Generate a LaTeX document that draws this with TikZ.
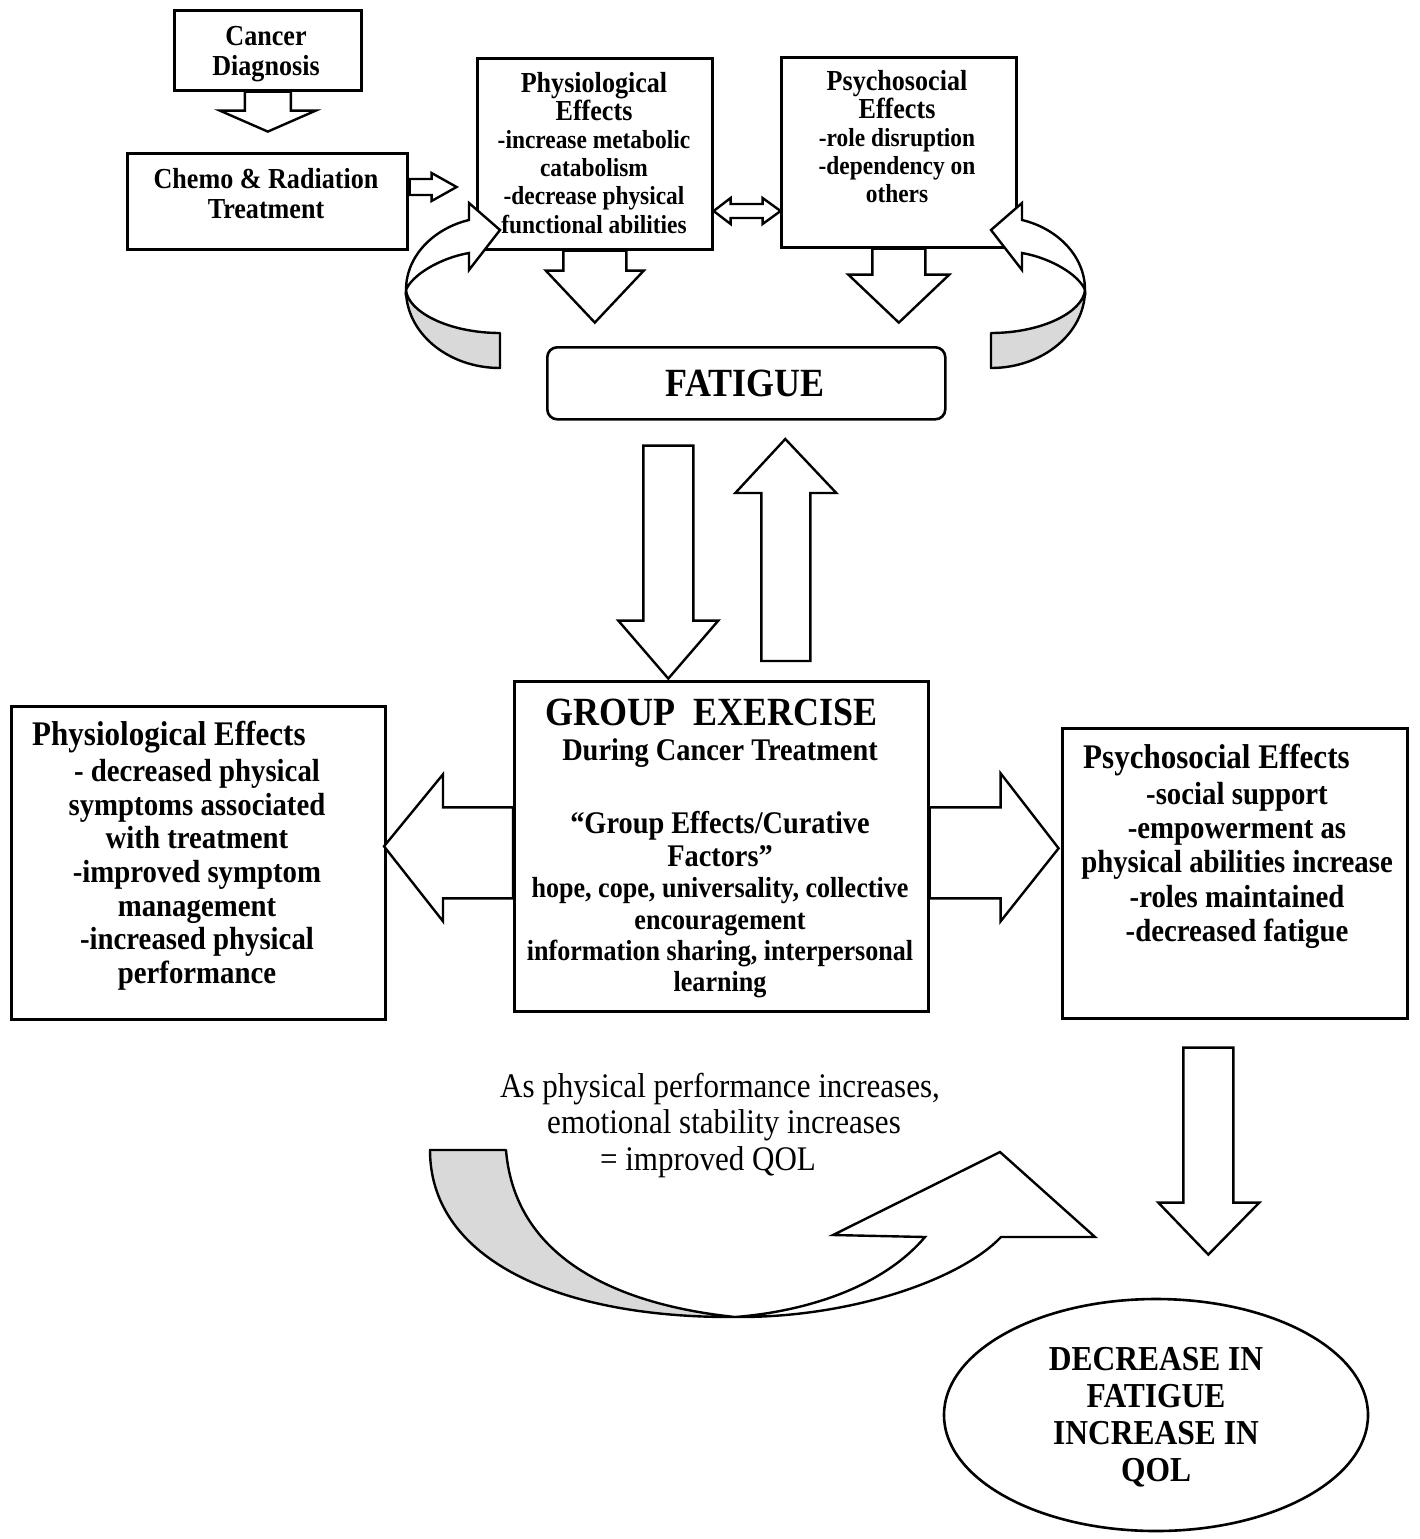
\documentclass[tikz,border=0pt]{standalone}
\usepackage{fontspec}
\setmainfont{Liberation Serif}[FakeStretch=0.9]
\usetikzlibrary{shapes.geometric}
\begin{document}
\begin{tikzpicture}[x=1pt,y=-1pt,line join=miter,
  box/.style={draw, line width=2.6pt, fill=white, inner sep=0pt},
  blk/.style={draw, line width=2.4pt, fill=white, line join=miter},
  shd/.style={draw, line width=2.4pt, fill=black!15, line join=round},
  tsm/.style={font=\fontsize{26}{28}\selectfont\bfseries, anchor=base, inner sep=0pt},
  tsh/.style={font=\fontsize{29}{28}\selectfont\bfseries, anchor=base, inner sep=0pt},
  tmd/.style={font=\fontsize{29}{30}\selectfont\bfseries, anchor=base, inner sep=0pt},
  tgb/.style={font=\fontsize{31.5}{32}\selectfont\bfseries, anchor=base, inner sep=0pt},
  tgs/.style={font=\fontsize{29}{32}\selectfont\bfseries, anchor=base, inner sep=0pt},
  tsd/.style={font=\fontsize{32}{34}\selectfont\bfseries, anchor=base, inner sep=0pt},
  thd/.style={font=\fontsize{34.5}{36}\selectfont\bfseries, anchor=base west, inner sep=0pt},
  tel/.style={font=\fontsize{35}{37}\selectfont\bfseries, anchor=base, inner sep=0pt},
  tbt/.style={font=\fontsize{34.5}{36}\selectfont, anchor=base, inner sep=0pt}]
\useasboundingbox[fill=white] (0,0) rectangle (1420,1539);

% ---------- boxes ----------
\node[box, anchor=north west, minimum width=187, minimum height=80] (cancer) at (173,9) {};
\node[box, anchor=north west, minimum width=280, minimum height=96] (chemo) at (126,152) {};
\node[box, anchor=north west, minimum width=235, minimum height=191] (phys1) at (476,57) {};
\node[box, anchor=north west, minimum width=235, minimum height=190] (psy1) at (780,56) {};
\node[box, rounded corners=10pt, anchor=north west, minimum width=398, minimum height=72] (fatigue) at (546,346) {};
\node[box, anchor=north west, minimum width=414, minimum height=330] (group) at (513,680) {};
\node[box, anchor=north west, minimum width=374, minimum height=313] (phys2) at (10,705) {};
\node[box, anchor=north west, minimum width=345, minimum height=290] (psy2) at (1061,727) {};
\node[box, ellipse, minimum width=424, minimum height=232] (outcome) at (1156,1415) {};

% ---------- block arrows ----------
\draw[blk, shift={(cancer.south)}] (-23,0) -- (-23,19) -- (-48,19) -- (0,40) -- (48,19) -- (23,19) -- (23,0) -- cycle;
\draw[blk, shift={(chemo.north east)}] (1,27) -- (23,27) -- (23,21) -- (48,35) -- (23,49) -- (23,43) -- (1,43) -- cycle;
\draw[blk, shift={(phys1.north east)}] (0,154) -- (17,141) -- (17,147) -- (49,147) -- (49,141) -- (67,154) -- (49,167) -- (49,161) -- (17,161) -- (17,167) -- cycle;
\draw[blk, shift={(phys1.south)}] (-31.5,0) -- (-31.5,20) -- (-49,20) -- (0,72) -- (49,20) -- (31.5,20) -- (31.5,0) -- cycle;
\draw[blk, shift={(psy1.south)}] (-26.5,0) -- (-26.5,26) -- (-50.5,26) -- (0,74) -- (50.5,26) -- (26.5,26) -- (26.5,0) -- cycle;
\draw[blk, shift={(fatigue.south)}] (-103,25) -- (-53,25) -- (-53,200) -- (-28,200) -- (-78,258) -- (-128,200) -- (-103,200) -- cycle;
\draw[blk, shift={(group.north)}] (40,-19) -- (89,-19) -- (89,-187) -- (115,-187) -- (64,-241) -- (14,-187) -- (40,-187) -- cycle;
\draw[blk, shift={(group.west)}] (0,-39) -- (-70,-39) -- (-70,-72) -- (-129,0) -- (-70,75) -- (-70,52) -- (0,52) -- cycle;
\draw[blk, shift={(group.east)}] (0,-39) -- (71,-39) -- (71,-73) -- (129,2) -- (71,75) -- (71,52) -- (0,52) -- cycle;
\draw[blk, shift={(psy2.south)}] (-51.5,28) -- (-1.5,28) -- (-1.5,183) -- (24.5,183) -- (-26.5,235) -- (-76.5,183) -- (-51.5,183) -- cycle;

% ---------- curved arrows (top) ----------
\draw[shd] (500,333) -- (500,368) .. controls (448,368) and (406,333) .. (406,290)
   .. controls (408,312) and (449,333) .. (500,333) -- cycle;
\draw[blk] (406,290) .. controls (406,255) and (435,228) .. (469,220) -- (469,203) -- (500,230)
   -- (469,270) -- (469,253) .. controls (440,258) and (412,275) .. (406,290) -- cycle;
\draw[shd] (991,333) -- (991,368) .. controls (1043,368) and (1085,333) .. (1085,290)
   .. controls (1083,312) and (1042,333) .. (991,333) -- cycle;
\draw[blk] (1085,290) .. controls (1085,255) and (1056,228) .. (1022,220) -- (1022,203) -- (991,230)
   -- (1022,270) -- (1022,253) .. controls (1051,258) and (1079,275) .. (1085,290) -- cycle;

% ---------- curved arrow (bottom) ----------
\draw[shd] (430,1150) -- (506,1150) .. controls (515,1260) and (620,1305) .. (735,1317)
   .. controls (560,1318) and (430,1260) .. (430,1150) -- cycle;
\draw[blk] (735,1317) .. controls (850,1318) and (960,1280) .. (1001,1237) -- (1095,1237) -- (1000,1152)
   -- (833,1235) -- (925,1237) .. controls (880,1290) and (800,1312) .. (735,1317) -- cycle;

% ---------- texts ----------
\node[tmd] (cd1) at (266,45) {Cancer};
\node[tmd] (cd2) at (266,75) {Diagnosis};
\node[tmd] (ch1) at (266,188) {Chemo \& Radiation};
\node[tmd] (ch2) at (266,218) {Treatment};
\node[tsh] (pa0) at (594,92) {Physiological};
\node[tsh] (pa1) at (594,120.5) {Effects};
\foreach \t [count=\i from 2] in {{-increase metabolic},{catabolism},{-decrease physical},{functional abilities}}
  \node[tsm] (pa\i) at (594,92+28.2*\i) {\t};
\node[tsh] (sa0) at (897,90) {Psychosocial};
\node[tsh] (sa1) at (897,118.5) {Effects};
\foreach \t [count=\i from 2] in {{-role disruption},{-dependency on},{others}}
  \node[tsm] (sa\i) at (897,90+28.2*\i) {\t};
\node[font=\fontsize{40}{40}\selectfont\bfseries, anchor=base, inner sep=0pt] (fat) at (745,396) {FATIGUE};

\node[font=\fontsize{40}{40}\selectfont\bfseries, anchor=base, inner sep=0pt] (ge0) at (712,725) {GROUP~~EXERCISE};
\node[tgb] (ge1) at (720,760) {During Cancer Treatment};
\node[tgb] (ge2) at (720,833) {“Group Effects/Curative};
\node[tgb] (ge3) at (720,866) {Factors”};
\foreach \t/\y [count=\i from 4] in {{hope, cope, universality, collective}/897,{encouragement}/929,{information sharing, interpersonal}/960,{learning}/991}
  \node[tgs] (ge\i) at (720,\y) {\t};

\node[thd] (pb0) at (32,745) {Physiological Effects};
\foreach \t [count=\i from 1] in {{- decreased physical},{symptoms associated},{with treatment},{-improved symptom},{management},{-increased physical},{performance}}
  \node[tsd] (pb\i) at (197,748+33.6*\i) {\t};

\node[thd] (sb0) at (1083,768) {Psychosocial Effects};
\foreach \t [count=\i from 1] in {{-social support},{-empowerment as},{physical abilities increase},{-roles maintained},{-decreased fatigue}}
  \node[tsd] (sb\i) at (1237,770+34.3*\i) {\t};

\node[tel] (oc1) at (1156,1370) {DECREASE IN};
\node[tel] (oc2) at (1156,1407) {FATIGUE};
\node[tel] (oc3) at (1156,1444) {INCREASE IN};
\node[tel] (oc4) at (1156,1481) {QOL};

\node[tbt] (bt1) at (720,1097) {As physical performance increases,};
\node[tbt] (bt2) at (724,1133) {emotional stability increases};
\node[tbt] (bt3) at (708,1170) {= improved QOL};
\end{tikzpicture}
\end{document}
